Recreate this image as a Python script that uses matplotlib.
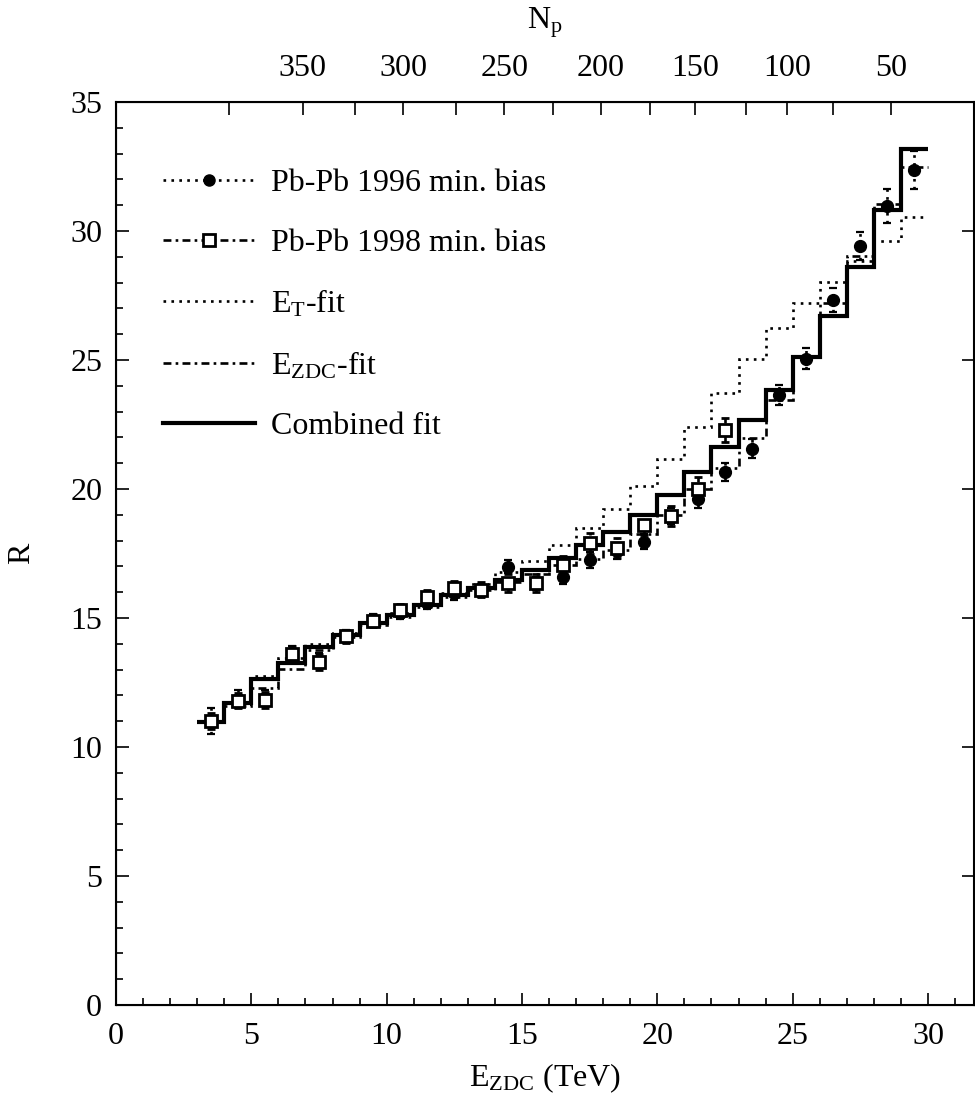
import numpy as np
import matplotlib
matplotlib.use('Agg')
import matplotlib.pyplot as plt
from matplotlib.lines import Line2D

plt.rcParams['font.family'] = ['Liberation Serif', 'DejaVu Serif']
plt.rcParams['mathtext.fontset'] = 'custom'
plt.rcParams['mathtext.rm'] = 'Liberation Serif'
plt.rcParams['mathtext.it'] = 'Liberation Serif:italic'

# ---- data ----
# bin edges of the fitted step functions (TeV)
edges = np.arange(3, 31, 1)

combined_fit = [10.95, 11.70, 12.64, 13.24, 13.86, 14.34, 14.79, 15.12, 15.50,
                15.89, 16.18, 16.47, 16.86, 17.33, 17.82, 18.35, 18.99, 19.75,
                20.67, 21.64, 22.68, 23.84, 25.13, 26.70, 28.60, 30.81, 33.19]
et_fit = [11.00, 11.75, 12.75, 13.45, 13.98, 14.40, 14.85, 15.20, 15.55,
          15.95, 16.30, 16.80, 17.21, 17.82, 18.50, 19.24, 20.12, 21.16,
          22.41, 23.73, 25.03, 26.23, 27.20, 28.04, 28.85, 29.63, 30.56]
ezdc_fit = [10.95, 11.60, 12.27, 13.01, 13.75, 14.25, 14.72, 15.05, 15.42,
            15.80, 16.10, 16.40, 16.70, 17.05, 17.30, 17.64, 18.26, 18.99,
            20.00, 20.80, 21.96, 23.45, 25.10, 27.20, 29.05, 31.05, 32.50]

e96 = [3.5, 4.5, 5.5, 6.5, 7.5, 8.5, 9.5, 10.5, 11.5, 12.5, 13.5, 14.5, 15.5, 16.5,
       17.5, 18.5, 19.5, 20.5, 21.5, 22.5, 23.5, 24.5, 25.5, 26.5, 27.5, 28.5, 29.5]
r96 = [11.00, 11.85, 11.90, 13.60, 13.35, 14.30, 14.90, 15.20, 15.60, 15.95, 16.05,
       16.99, 16.35, 16.60, 17.25, 17.60, 17.96, 18.95, 19.60, 20.65, 21.57, 23.64,
       25.05, 27.33, 29.42, 30.97, 32.36]
err96 = [0.50, 0.35, 0.30, 0.30, 0.30, 0.25, 0.25, 0.25, 0.25, 0.25, 0.25, 0.25,
         0.25, 0.30, 0.30, 0.30, 0.30, 0.30, 0.35, 0.35, 0.35, 0.40, 0.40, 0.45,
         0.55, 0.65, 0.75]

e98 = [3.5, 4.5, 5.5, 6.5, 7.5, 8.5, 9.5, 10.5, 11.5, 12.5, 13.5, 14.5, 15.5, 16.5,
       17.5, 18.5, 19.5, 20.5, 21.5, 22.5]
r98 = [11.00, 11.80, 11.82, 13.60, 13.30, 14.30, 14.90, 15.30, 15.80, 16.15, 16.10,
       16.37, 16.37, 17.05, 17.90, 17.72, 18.62, 18.95, 20.00, 22.29]
err98 = [0.30, 0.30, 0.30, 0.30, 0.30, 0.25, 0.25, 0.25, 0.30, 0.30, 0.30, 0.35,
         0.35, 0.35, 0.40, 0.40, 0.40, 0.40, 0.45, 0.45]

# N_p scale on top, placed at E_ZDC values
np_labels = [350, 300, 250, 200, 150, 100, 50]
np_major_e = [6.89, 10.61, 14.34, 17.92, 21.39, 24.80, 28.63]
np_minor_e = [4.19, 8.83, 12.56, 16.13, 19.73, 23.26, 26.50]

# ---- styles ----
fs = 23
dotted = (0, (1, 2))
dashdot = (0, (3, 1.6, 1, 1.6))
lw_thin = 1.9

fig = plt.figure(figsize=(9.75, 11.09), dpi=100)
ax = fig.add_axes([0.119, 0.0938, 0.880, 0.8142])

ax.stairs(et_fit, edges, baseline=None, color='k', lw=lw_thin, linestyle=dotted)
ax.stairs(ezdc_fit, edges, baseline=None, color='k', lw=lw_thin, linestyle=dashdot)
ax.stairs(combined_fit, edges, baseline=None, color='k', lw=3.0)

eb96 = ax.errorbar(e96, r96, yerr=err96, fmt='o', color='k', ms=8.5, capsize=3,
                   elinewidth=lw_thin, capthick=1.6)
eb96[2][0].set_linestyle(dotted)
eb98 = ax.errorbar(e98, r98, yerr=err98, fmt='s', color='k', mfc='white', mew=2,
                   ms=8.5, capsize=3, elinewidth=lw_thin, capthick=1.6)
eb98[2][0].set_linestyle(dashdot)

ax.set_xlim(0, 31.7)
ax.set_ylim(0, 35)
ax.set_xticks(np.arange(0, 31, 5))
ax.set_xticks(np.arange(0, 32, 1), minor=True)
ax.set_yticks(np.arange(0, 36, 5))
ax.set_yticks(np.arange(0, 36, 1), minor=True)
ax.tick_params(which='both', direction='in', labelsize=fs, width=1.2)
ax.tick_params(which='major', length=9, right=True)
ax.tick_params(axis='x', which='major', pad=12)
ax.tick_params(axis='y', which='major', pad=10)
ax.tick_params(which='minor', length=5)
for s in ax.spines.values():
    s.set_linewidth(1.5)

ax.set_xlabel(r'$\mathrm{E_{ZDC}}$ (TeV)', fontsize=fs, labelpad=8)
ax.set_ylabel('R', fontsize=fs)
ax.yaxis.set_label_coords(-0.093, 0.5)

ax2 = ax.twiny()
ax2.set_xlim(ax.get_xlim())
ax2.set_xticks(np_major_e)
ax2.set_xticklabels([str(v) for v in np_labels])
ax2.set_xticks(np_minor_e, minor=True)
ax2.tick_params(which='both', direction='in', labelsize=fs, length=9, width=1.2, pad=14)
ax2.set_xlabel(r'$\mathrm{N_p}$', fontsize=fs, labelpad=18)

handles = [
    Line2D([], [], color='k', lw=lw_thin, linestyle=dotted, marker='o', ms=8),
    Line2D([], [], color='k', lw=lw_thin, linestyle=dashdot, marker='s', ms=8,
           mfc='white', mew=2),
    Line2D([], [], color='k', lw=lw_thin, linestyle=dotted),
    Line2D([], [], color='k', lw=lw_thin, linestyle=dashdot),
    Line2D([], [], color='k', lw=3.0),
]
labels = ['Pb-Pb 1996 min. bias', 'Pb-Pb 1998 min. bias', r'$\mathrm{E_T}$-fit',
          r'$\mathrm{E_{ZDC}}$-fit', 'Combined fit']
ax.legend(handles, labels, loc='upper left', bbox_to_anchor=(0.021, 0.958),
          frameon=False, fontsize=fs, handlelength=2.9, handletextpad=0.5,
          labelspacing=0.95, numpoints=1)

fig.savefig('out.png', dpi=100)
